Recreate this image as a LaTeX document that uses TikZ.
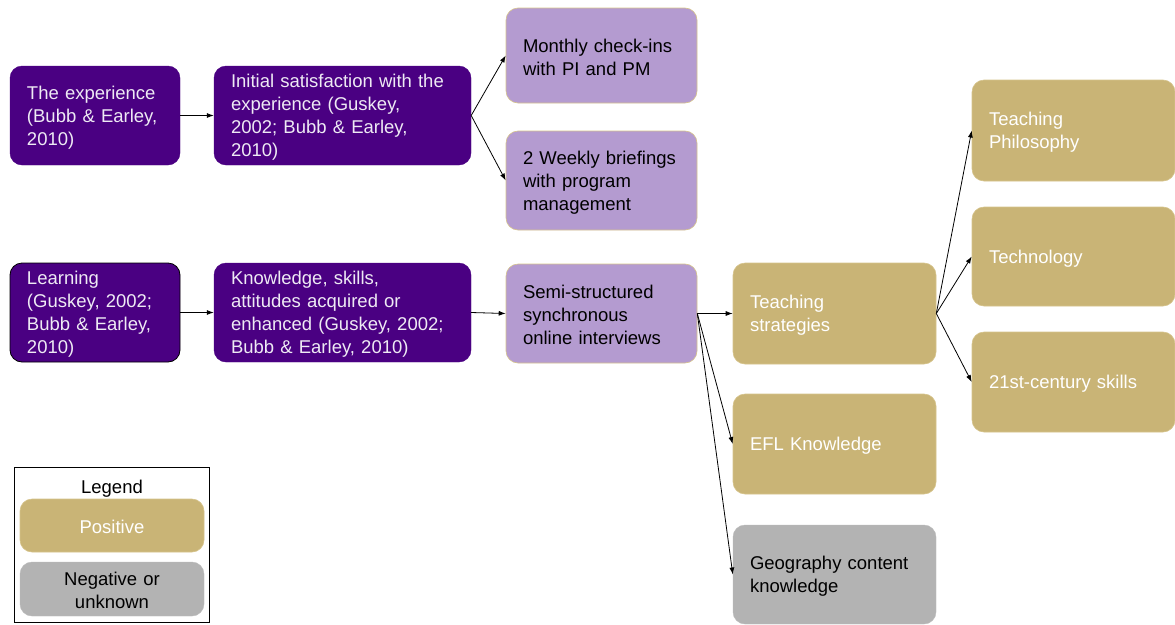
\documentclass[tikz,border=0pt]{standalone}
\usepackage{fontspec}
\setmainfont{Liberation Sans}
\usetikzlibrary{arrows.meta}
\definecolor{deeppurple}{RGB}{74,0,130}
\definecolor{softpurple}{RGB}{180,155,208}
\definecolor{khaki}{RGB}{201,180,118}
\definecolor{khakiedge}{RGB}{214,196,140}
\definecolor{stone}{RGB}{179,179,179}
\definecolor{paletext}{RGB}{238,234,244}
\tikzset{
  box/.style={rectangle, rounded corners=12pt, inner xsep=17pt, inner ysep=0pt,
    align=left, font=\fontsize{18.5}{23}\selectfont, anchor=center,
    execute at begin node={\rule{0pt}{17pt}}},
  pbox/.style={box, fill=deeppurple, draw=deeppurple, text=paletext},
  lbox/.style={box, fill=softpurple, draw=khakiedge, line width=0.6pt, text=black},
  tbox/.style={box, fill=khaki, draw=khakiedge, line width=0.6pt, text=white},
  gbox/.style={box, fill=stone, draw=stone!90!white, text=black},
  conn/.style={-{Latex[length=7pt,width=5pt]}, line width=0.8pt, black},
  bsize/.code 2 args={%
    \pgfmathsetmacro\bxtw{#1-34}%
    \edef\bxopts{minimum width=#1pt, text width=\bxtw pt, minimum height=#2pt}%
    \expandafter\pgfkeysalso\expandafter{\bxopts}},
}
\begin{document}
\begin{tikzpicture}[x=1pt, y=-1pt]
  \useasboundingbox (0,0) rectangle (1175,624);
  \fill[white] (0,0) rectangle (1175,624);

  % upper chain
  \node[pbox, bsize={170}{99}] (exp) at (95,115.5) {The experience\\(Bubb \& Earley,\\2010)};
  \node[pbox, bsize={257}{99}] (init) at (342.5,115.5) {Initial satisfaction with the\\experience (Guskey,\\2002; Bubb \& Earley,\\2010)};
  \node[lbox, bsize={191}{95}] (month) at (601.5,55.5) {Monthly check-ins\\with PI and PM};
  \node[lbox, bsize={191}{99}] (week) at (601.5,180.5) {2 Weekly briefings\\with program\\management};

  % lower chain
  \node[pbox, draw=black, line width=0.8pt, bsize={170}{99}] (learn) at (95,312.5) {Learning\\(Guskey, 2002;\\Bubb \& Earley,\\2010)};
  \node[pbox, bsize={257}{99}] (know) at (342.5,312.5) {Knowledge, skills,\\attitudes acquired or\\enhanced (Guskey, 2002;\\Bubb \& Earley, 2010)};
  \node[lbox, bsize={191}{99}] (semi) at (601.5,313.5) {Semi-structured\\synchronous\\online interviews};

  % outcomes
  \node[tbox, bsize={203}{101}] (teach) at (834.5,313.5) {Teaching\\strategies};
  \node[tbox, bsize={203}{100}] (efl) at (834.5,444) {EFL Knowledge};
  \node[gbox, bsize={203}{99}] (geo) at (834.5,574.5) {Geography content\\knowledge};
  \node[tbox, bsize={203}{101}] (phil) at (1073.5,130.5) {Teaching\\Philosophy};
  \node[tbox, bsize={203}{99}] (tech) at (1073.5,256.5) {Technology};
  \node[tbox, bsize={203}{100}] (skills) at (1073.5,382) {21st-century skills};

  % connectors
  \draw[conn] (exp.east) -- (init.west);
  \draw[conn] (init.east) -- (month.west);
  \draw[conn] (init.east) -- (week.west);
  \draw[conn] (learn.east) -- (know.west);
  \draw[conn] (know.east) -- (semi.west);
  \draw[conn] (semi.east) -- (teach.west);
  \draw[conn] (semi.east) -- (efl.west);
  \draw[conn] (semi.east) -- (geo.west);
  \draw[conn] (teach.east) -- (phil.west);
  \draw[conn] (teach.east) -- (tech.west);
  \draw[conn] (teach.east) -- (skills.west);

  % legend
  \node[draw=black, line width=0.8pt, minimum width=195pt, minimum height=155pt, inner sep=0pt] (legend) at (111.5,544.5) {};
  \node[font=\fontsize{18.5}{23}\selectfont] (legendtitle) at (112,488.5) {Legend};
  \node[tbox, align=center, inner xsep=0pt, minimum width=184pt, text width=184pt, minimum height=53pt] (pos) at (112,525.5) {Positive};
  \node[gbox, align=center, inner xsep=0pt, minimum width=184pt, text width=184pt, minimum height=54pt] (neg) at (112,589) {Negative or\\unknown};
\end{tikzpicture}
\end{document}
